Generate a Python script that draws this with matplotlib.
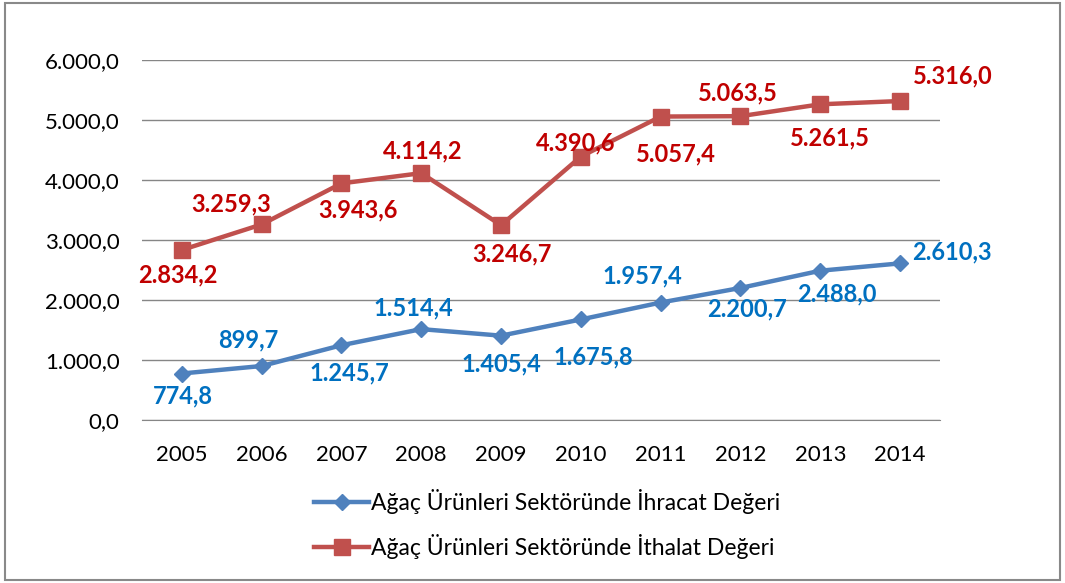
import matplotlib.pyplot as plt
from matplotlib.patches import Rectangle

years = ['2005', '2006', '2007', '2008', '2009', '2010', '2011', '2012', '2013', '2014']
ihracat = [774.8, 899.7, 1245.7, 1514.4, 1405.4, 1675.8, 1957.4, 2200.7, 2488.0, 2610.3]
ithalat = [2834.2, 3259.3, 3943.6, 4114.2, 3246.7, 4390.6, 5057.4, 5063.5, 5261.5, 5316.0]
yticks = [0, 1000, 2000, 3000, 4000, 5000, 6000]

# label offsets in points (dx, dy)
ihr_off = [(1, -16), (-10, 19), (6, -20), (-6, 15), (0, -20), (9, -27), (-13, 19), (5, -15), (12, -17), (37, 8)]
ith_off = [(-3, -18), (-22, 15), (12, -19), (1, 16), (8, -21), (-4, 10), (11, -27), (-2, 17), (7, -24), (38, 18)]


def tr(v):
    s = '{:,.1f}'.format(v)
    return s.replace(',', 'X').replace('.', ',').replace('X', '.')


plt.rcParams['font.family'] = ['Lato', 'DejaVu Sans']

fig = plt.figure(figsize=(10.65, 5.83), dpi=100)
ax = fig.add_axes([0.1333, 0.2796, 0.7493, 0.6175])

x = list(range(len(years)))
blue, red = '#4F81BD', '#C0504D'
ax.plot(x, ihracat, color=blue, lw=3.2, marker='D', markersize=8.5,
        label='Ağaç Ürünleri Sektöründe İhracat Değeri')
ax.plot(x, ithalat, color=red, lw=3.2, marker='s', markersize=12,
        label='Ağaç Ürünleri Sektöründe İthalat Değeri')

for i, v in enumerate(ihracat):
    ax.annotate(tr(v), (i, v), xytext=ihr_off[i], textcoords='offset points',
                ha='center', va='center', fontsize=17, fontweight='bold', color='#0070C0')
for i, v in enumerate(ithalat):
    ax.annotate(tr(v), (i, v), xytext=ith_off[i], textcoords='offset points',
                ha='center', va='center', fontsize=17, fontweight='bold', color='#C00000')

ax.set_xlim(-0.5, len(years) - 0.5)
ax.set_ylim(0, 6000)
ax.set_xticks(x)
ax.set_xticklabels(years, fontsize=16)
ax.set_yticks(yticks)
ax.set_yticklabels([tr(t) for t in yticks], fontsize=16)
ax.tick_params(axis='x', length=0, pad=18)
ax.tick_params(axis='y', length=0, pad=16)
ax.grid(axis='y', color='#868686', lw=1)
ax.set_axisbelow(True)
for s in ['top', 'right', 'left']:
    ax.spines[s].set_visible(False)
ax.spines['bottom'].set_color('#868686')

fig.legend(loc='center', bbox_to_anchor=(0.514, 0.101), ncol=1, frameon=False,
           fontsize=16.5, handlelength=2.4, handletextpad=0.1, labelspacing=0.85)

fig.add_artist(Rectangle((0.005, 0.006), 0.99, 0.988, transform=fig.transFigure,
                         fill=False, edgecolor='#898989', lw=1.5))

fig.savefig('out.png', dpi=100)
